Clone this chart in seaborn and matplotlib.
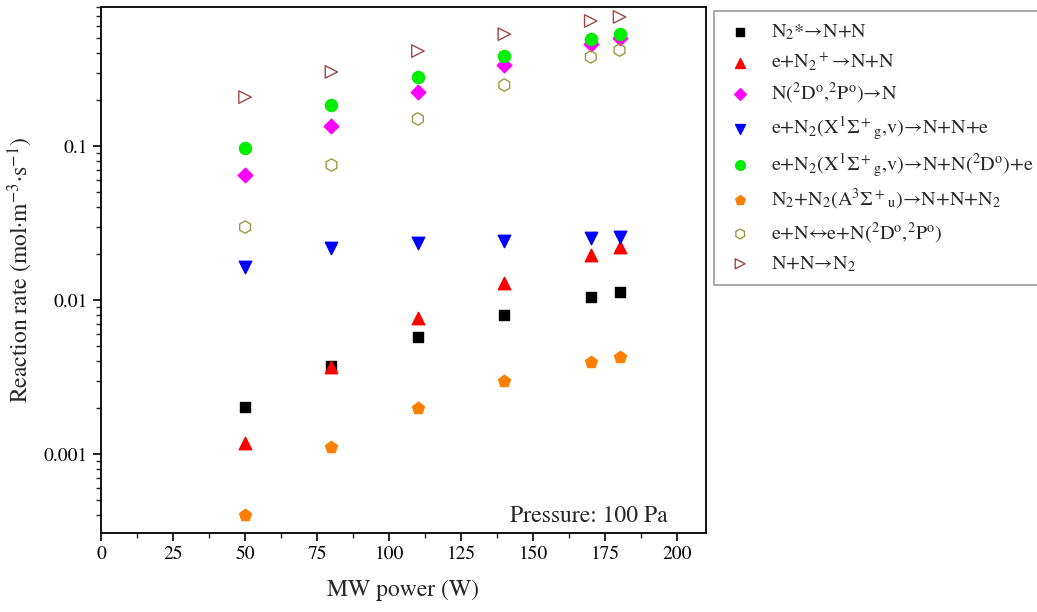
import numpy as np
import pandas as pd
import matplotlib
matplotlib.use('Agg')
import matplotlib.pyplot as plt
from matplotlib.ticker import FixedLocator, FixedFormatter, LogLocator, NullFormatter, MultipleLocator
import seaborn as sns

# data
power = [50, 80, 110, 140, 170, 180]

n2star = [0.00202, 0.00373, 0.00575, 0.0080, 0.01045, 0.0113]
recomb_ion = [0.00118, 0.0037, 0.00764, 0.0129, 0.0196, 0.0221]
quench = [0.0648, 0.135, 0.224, 0.336, 0.459, 0.502]
diss_e = [0.0164, 0.0218, 0.0235, 0.0242, 0.0253, 0.0257]
diss_e_2d = [0.097, 0.184, 0.281, 0.384, 0.495, 0.533]
pooling = [0.000402, 0.00111, 0.00199, 0.00298, 0.00396, 0.00426]
excit = [0.0298, 0.0753, 0.150, 0.249, 0.379, 0.420]
recomb_n = [0.208, 0.303, 0.414, 0.533, 0.649, 0.689]

labels = [
    r'N$_2$*→N+N',
    r'e+N$_2$$^+$→N+N',
    r'N($^2$D$^{\rm o}$,$^2$P$^{\rm o}$)→N',
    r'e+N$_2$(X$^1\Sigma^+{}_{\rm g}$,v)→N+N+e',
    r'e+N$_2$(X$^1\Sigma^+{}_{\rm g}$,v)→N+N($^2$D$^{\rm o}$)+e',
    r'N$_2$+N$_2$(A$^3\Sigma^+{}_{\rm u}$)→N+N+N$_2$',
    r'e+N↔e+N($^2$D$^{\rm o}$,$^2$P$^{\rm o}$)',
    r'N+N→N$_2$',
]
series = [n2star, recomb_ion, quench, diss_e, diss_e_2d, pooling, excit, recomb_n]

sns.set_style('ticks')
plt.rcParams['font.family'] = ['STIXGeneral', 'Liberation Serif', 'DejaVu Serif']
plt.rcParams['mathtext.fontset'] = 'stix'

# marker styles: (marker, face, edge, size)
styles = [
    ('s', 'black', 'black', 55),
    ('^', '#ff0000', '#ff0000', 80),
    ('D', '#ff00ff', '#ff00ff', 55),
    ('v', '#0000ff', '#0000ff', 80),
    ('o', '#00ee00', '#00ee00', 75),
    ('p', '#ff8000', '#ff8000', 80),
    ('h', 'none', '#9a9a40', 80),
    ('>', 'none', '#a04848', 80),
]

fig = plt.figure(figsize=(10.37, 6.12), dpi=100)
ax = fig.add_axes([0.0974, 0.129, 0.5834, 0.8596])

for vals, lab, (m, fc, ec, s) in zip(series, labels, styles):
    df = pd.DataFrame({'power': power, 'rate': vals})
    sns.scatterplot(data=df, x='power', y='rate', ax=ax, marker=m, s=s,
                    facecolor=fc, edgecolor=ec, linewidth=1.0, label=lab)

ax.set_yscale('log')
ax.set_xlim(0, 210)
ax.set_ylim(3.07e-4, 0.8)
ax.xaxis.set_major_locator(MultipleLocator(25))
ax.xaxis.set_minor_locator(MultipleLocator(12.5))
ax.yaxis.set_major_locator(FixedLocator([0.001, 0.01, 0.1]))
ax.yaxis.set_major_formatter(FixedFormatter(['0.001', '0.01', '0.1']))
ax.yaxis.set_minor_locator(LogLocator(base=10, subs=np.arange(2, 10)))
ax.yaxis.set_minor_formatter(NullFormatter())

ax.tick_params(which='major', direction='out', length=6, width=1.2, labelsize=14,
               top=False, right=False, colors='black')
ax.tick_params(which='minor', direction='out', length=3.5, width=1.0,
               top=False, right=False)
for sp in ax.spines.values():
    sp.set_linewidth(1.3)
    sp.set_color('black')

ax.set_xlabel('MW power (W)', fontsize=17, labelpad=12)
ax.set_ylabel(r'Reaction rate (mol·m$^{-3}$·s$^{-1}$)', fontsize=17, labelpad=6)

ax.text(0.936, 0.021, 'Pressure: 100 Pa', transform=ax.transAxes, fontsize=17,
        ha='right', va='baseline')

ax.legend_.remove()
handles, labs = ax.get_legend_handles_labels()
leg = fig.legend(handles, labs, loc='upper left', bbox_to_anchor=(714 / 1037, 1 - 11 / 612),
                 bbox_transform=fig.transFigure, borderaxespad=0, fontsize=14.5,
                 frameon=True, fancybox=False, edgecolor='#808080', labelspacing=0.42,
                 handletextpad=0.8, borderpad=0.55, markerscale=0.8, handlelength=1.5)
leg.get_frame().set_linewidth(1.2)

fig.savefig('out.png', dpi=100)
